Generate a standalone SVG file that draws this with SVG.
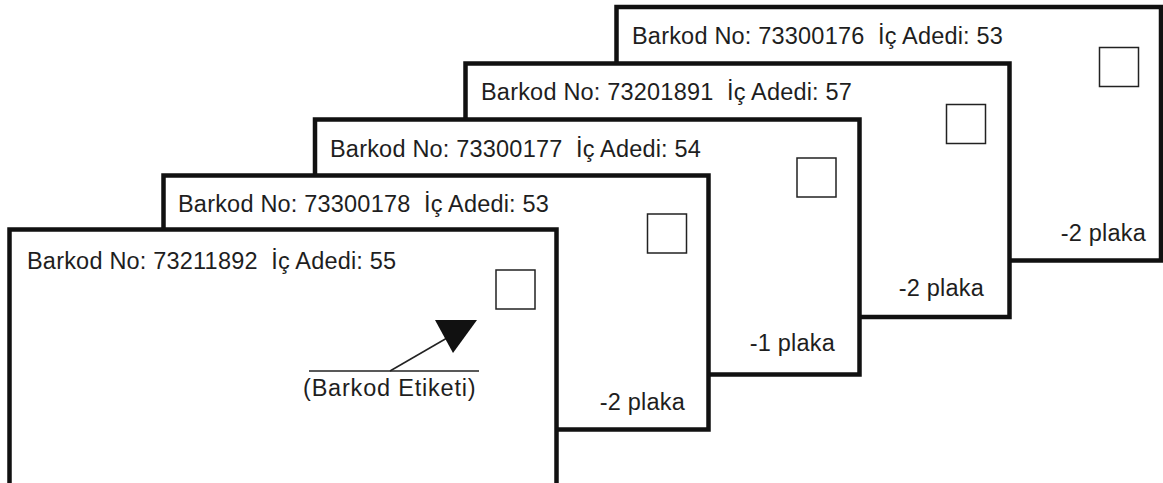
<svg xmlns="http://www.w3.org/2000/svg" width="1163" height="483" viewBox="0 0 1163 483">
<style>
.card{fill:#fff;stroke:#111;stroke-width:4.5}
.box{fill:#fff;stroke:#222;stroke-width:1.5}
.t{font-family:"Liberation Sans",Arial,Helvetica,sans-serif;font-size:23.5px;letter-spacing:0.2px;fill:#1e1e1e;white-space:pre}
.e{text-anchor:end}
.w{letter-spacing:0.8px}
.ln{stroke:#222;stroke-width:1.5;fill:none}
</style>
<rect width="1163" height="483" fill="#fff"/>
<g id="card5">
<rect class="card" x="616.5" y="7" width="544.5" height="253.5"/>
<text class="t" x="632" y="44" xml:space="preserve">Barkod No: 73300176  İç Adedi: 53</text>
<rect class="box" x="1099.5" y="47.5" width="39" height="39"/>
<text class="t e" x="1146" y="241">-2 plaka</text>
</g>
<g id="card4">
<rect class="card" x="465.5" y="63.5" width="544" height="253.5"/>
<text class="t" x="481" y="100" xml:space="preserve">Barkod No: 73201891  İç Adedi: 57</text>
<rect class="box" x="946.5" y="104.5" width="39" height="39"/>
<text class="t e" x="984" y="296">-2 plaka</text>
</g>
<g id="card3">
<rect class="card" x="315" y="119.5" width="544.5" height="255"/>
<text class="t" x="330" y="157" xml:space="preserve">Barkod No: 73300177  İç Adedi: 54</text>
<rect class="box" x="797" y="158" width="39" height="39"/>
<text class="t e" x="835" y="351">-1 plaka</text>
</g>
<g id="card2">
<rect class="card" x="163.5" y="175.5" width="545" height="254"/>
<text class="t" x="178" y="212" xml:space="preserve">Barkod No: 73300178  İç Adedi: 53</text>
<rect class="box" x="647.5" y="214" width="39" height="39"/>
<text class="t e" x="685" y="410">-2 plaka</text>
</g>
<g id="card1">
<rect class="card" x="9.5" y="229.5" width="547" height="260"/>
<text class="t" x="27" y="269" xml:space="preserve">Barkod No: 73211892  İç Adedi: 55</text>
<rect class="box" x="496" y="270" width="39" height="39"/>
<text class="t w" x="303" y="396">(Barkod Etiketi)</text>
</g>
<g id="connectors">
<line class="ln" x1="309" y1="371" x2="479" y2="371"/>
<line class="ln" x1="390" y1="371" x2="447" y2="338"/>
<polygon points="435,320 477,320 453,353" fill="#111"/>
</g>
</svg>
